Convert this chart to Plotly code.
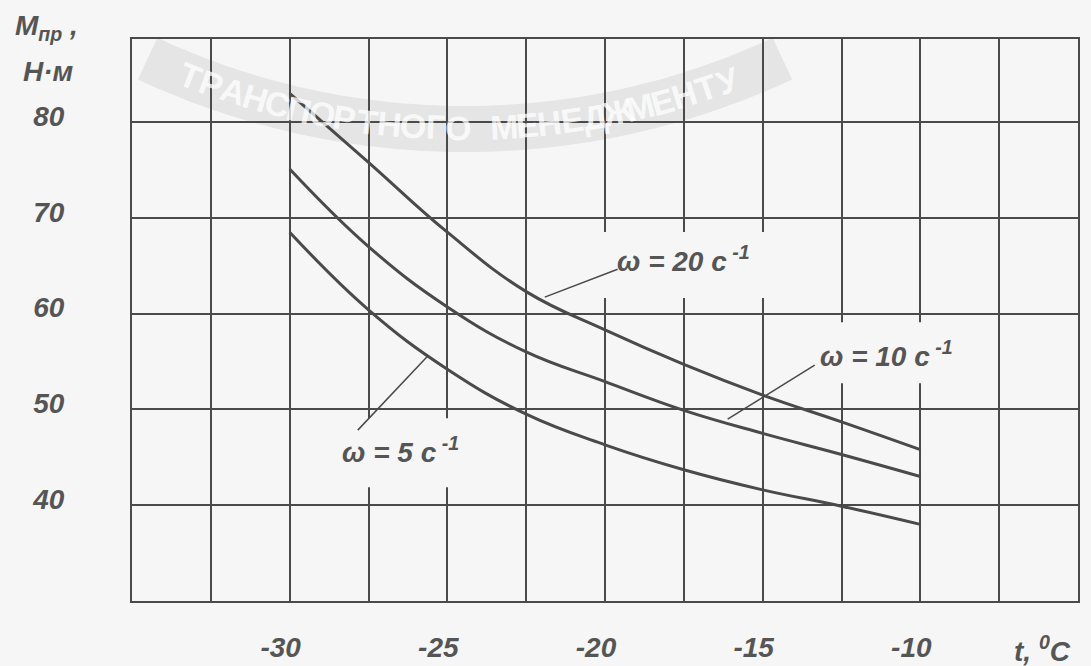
import math
import plotly.graph_objects as go

# Temperature, °C
t = [-30, -27.5, -25, -22.5, -20, -17.5, -15, -12.5, -10]
# Moment of resistance M_пр, Н·м, for three shaft speeds
m_w20 = [83.0, 75.8, 68.5, 62.3, 58.3, 54.7, 51.5, 48.7, 45.8]
m_w10 = [75.1, 67.0, 60.7, 56.0, 52.9, 49.9, 47.5, 45.3, 43.0]
m_w5 = [68.5, 60.4, 54.2, 49.5, 46.3, 43.7, 41.6, 39.9, 38.0]

x_ticks = [-30, -25, -20, -15, -10]
x_tick_text = ["-30", "-25", "-20", "-15", "-10"]
y_ticks = [40, 50, 60, 70, 80]
y_tick_text = ["40", "50", "60", "70", "80"]

watermark = "ТРАНСПОРТНОГО МЕНЕДЖМЕНТУ"

INK = "#4a4a4a"
TEXT = "#555555"
BG = "#f6f6f6"
FONT = dict(family="Liberation Sans, Arial, sans-serif", size=28, color=TEXT,
            weight="bold", style="italic")

# plot box in pixels (used for the paper-space watermark only)
W, H = 1091, 666
L, R, T, B = 132, 13, 39, 65
PW, PH = W - L - R, H - T - B


def to_paper(px, py):
    return (px - L) / PW, (H - B - py) / PH


fig = go.Figure()

# faded arc watermark behind the grid
cx, cy, rad = 465.0, -622.0, 750.0
band_in, band_out = [], []
for k in range(61):
    a = math.radians(-25 + 50 * k / 60)
    band_out.append(to_paper(cx + (rad + 24) * math.sin(a), cy + (rad + 24) * math.cos(a)))
    band_in.append(to_paper(cx + (rad - 22) * math.sin(a), cy + (rad - 22) * math.cos(a)))
pts = band_out + band_in[::-1]
path = "M " + " L ".join(f"{x:.4f},{y:.4f}" for x, y in pts) + " Z"
fig.add_shape(type="path", xref="paper", yref="paper", path=path,
              fillcolor="#e5e5e5", line=dict(width=0), layer="below")
n = len(watermark)
for i, ch in enumerate(watermark):
    if ch == " ":
        continue
    a = math.radians(-21.5 + 42.0 * i / (n - 1))
    px, py = cx + rad * math.sin(a), cy + rad * math.cos(a)
    xp, yp = to_paper(px, py)
    fig.add_annotation(x=xp, y=yp, xref="paper", yref="paper", text=ch, showarrow=False,
                       textangle=-math.degrees(a), xanchor="center", yanchor="middle",
                       font=dict(family="Liberation Sans, Arial, sans-serif", size=34,
                                 color="rgba(255,255,255,0.75)", weight="bold"))

for ys in (m_w20, m_w10, m_w5):
    fig.add_trace(go.Scatter(x=t, y=ys, mode="lines",
                             line=dict(color=INK, width=3, shape="spline", smoothing=1.2),
                             hoverinfo="skip", showlegend=False))

# curve labels: (text, x, y, leader from, leader to, clear box)
labels = [
    ("ω = 20 c<sup> -1</sup>", -19.69, 65.7, (-21.91, 61.72), (-19.60, 64.64), (-20.32, 61.62, -14.62, 68.51)),
    ("ω = 10 c<sup> -1</sup>", -13.26, 55.8, (-16.11, 48.99), (-13.35, 54.62), (-13.83, 52.74, -7.81, 59.11)),
    ("ω = 5 c<sup> -1</sup>", -28.41, 45.8, (-27.84, 47.84), (-25.62, 55.57), (-28.72, 41.88, -23.97, 49.09)),
]
for text, lx, ly, p0, p1, box in labels:
    fig.add_shape(type="rect", xref="x", yref="y", x0=box[0], y0=box[1], x1=box[2], y1=box[3],
                  fillcolor=BG, line=dict(width=0), layer="between")
    fig.add_shape(type="line", xref="x", yref="y", x0=p0[0], y0=p0[1], x1=p1[0], y1=p1[1],
                  line=dict(color=INK, width=1.5), layer="above")
    fig.add_annotation(x=lx, y=ly, xref="x", yref="y", text=text, showarrow=False,
                       xanchor="left", yanchor="middle", font=FONT)

# axis captions
fig.add_annotation(x=-0.126, y=1.021, xref="paper", yref="paper", text="M<sub>пр</sub> ,",
                   showarrow=False, xanchor="left", yanchor="middle", font=FONT)
fig.add_annotation(x=-0.117, y=0.943, xref="paper", yref="paper", text="Н·м",
                   showarrow=False, xanchor="left", yanchor="middle", font=FONT)
fig.add_annotation(x=0.930, y=-0.085, xref="paper", yref="paper", text="t, <sup>0</sup>C",
                   showarrow=False, xanchor="left", yanchor="middle", font=FONT)

fig.update_xaxes(range=[-35, -5], tickvals=x_ticks, ticktext=x_tick_text,
                 showgrid=True, gridcolor=INK, gridwidth=1.5,
                 minor=dict(dtick=2.5, tick0=-35, showgrid=True, gridcolor=INK, gridwidth=1.5),
                 showline=True, linecolor=INK, linewidth=2, mirror=True,
                 zeroline=False, ticks="", tickfont=FONT, automargin=False,
                 ticklabelstandoff=20, ticklabelshift=-9)
fig.update_yaxes(range=[30, 88.67], tickvals=y_ticks, ticktext=y_tick_text,
                 showgrid=True, gridcolor=INK, gridwidth=1.5,
                 showline=True, linecolor=INK, linewidth=2, mirror=True,
                 zeroline=False, ticks="", tickfont=FONT, automargin=False,
                 ticklabelstandoff=60, ticklabelshift=-6)
fig.update_layout(width=W, height=H, margin=dict(l=L, r=R, t=T, b=B),
                  paper_bgcolor=BG, plot_bgcolor=BG, showlegend=False)
fig.write_html("out.html")
